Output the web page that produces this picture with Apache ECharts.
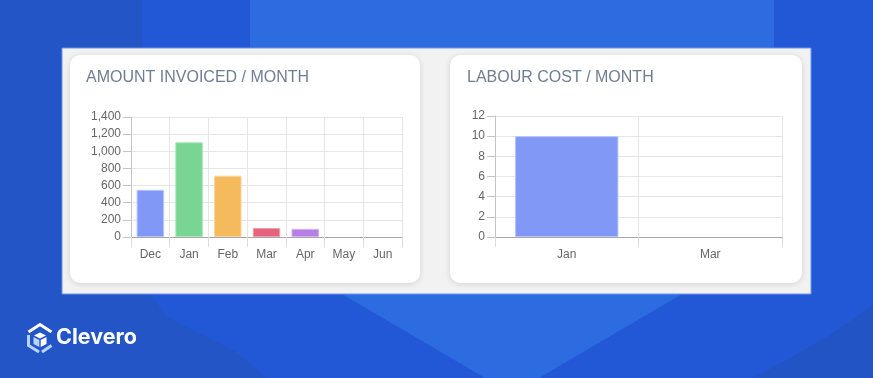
<!DOCTYPE html>
<html>
<head>
<meta charset="utf-8">
<script src="https://cdn.jsdelivr.net/npm/echarts@6/dist/echarts.min.js"></script>
<style>
  html, body { margin: 0; padding: 0; }
  #main { width: 873px; height: 378px; }
</style>
</head>
<body>
<div id="main"></div>
<script>
// data
var invoiceMonths = ['Dec', 'Jan', 'Feb', 'Mar', 'Apr', 'May', 'Jun'];
var invoiceAmounts = [550, 1105, 715, 105, 95, 0, 0];
var invoiceColors = ['#8198f7', '#78d593', '#f5ba5c', '#e5637c', '#b57fe6', '#8198f7', '#78d593'];
var invoiceBorders = ['#b4c2fb', '#a9e6bb', '#f9d49a', '#efa0af', '#d3b0f1', '#b4c2fb', '#a9e6bb'];

var labourMonths = ['Jan', 'Mar'];
var labourCost = [10, 0];

var dom = document.getElementById('main');
var myChart = echarts.init(dom, null, { renderer: 'canvas' });

var axisFont = { color: '#666', fontSize: 12, fontFamily: 'Liberation Sans, Arial, sans-serif' };
var gridLine = { color: '#e6e6e6', width: 1 };

function xAxisFor(idx, cats) {
  return {
    type: 'category',
    gridIndex: idx,
    data: cats,
    boundaryGap: true,
    axisLine: { lineStyle: { color: '#a8a8a8' } },
    axisTick: { show: true, length: 10, lineStyle: { color: '#dcdcdc' } },
    axisLabel: Object.assign({ margin: 12 }, axisFont),
    splitLine: { show: true, lineStyle: gridLine }
  };
}

function yAxisFor(idx, max, step, fmt) {
  return {
    type: 'value',
    gridIndex: idx,
    min: 0,
    max: max,
    interval: step,
    axisLine: { show: true, lineStyle: { color: '#c4c4c4' } },
    axisTick: { show: true, length: 8, lineStyle: { color: '#c4c4c4' } },
    axisLabel: Object.assign({ margin: 10, formatter: fmt }, axisFont),
    splitLine: { show: true, lineStyle: gridLine }
  };
}

// bars with nothing to show get no outline
function barItem(v, fill, border) {
  return { value: v, itemStyle: { color: fill, borderColor: border, borderWidth: v > 0 ? 1 : 0 } };
}

var option = {
  backgroundColor: '#2258d5',
  animation: false,
  graphic: [
    // background shapes
    { type: 'polygon', z: -10, shape: { points: [[250, 0], [774, 0], [774, 240], [539, 378], [485, 378], [250, 240]] }, style: { fill: '#2c6be0' } },
    { type: 'polygon', z: -10, shape: { points: [[0, 0], [142, 0], [142, 48], [62, 48], [62, 294], [150, 294], [167, 317], [187, 327], [233, 350], [268, 378], [0, 378]] }, style: { fill: '#2355c7' } },
    { type: 'polygon', z: -10, shape: { points: [[873, 305], [830, 335], [790, 358], [753, 378], [873, 378]] }, style: { fill: '#2354c6' } },
    // panel
    { type: 'rect', z: -5, shape: { x: 62, y: 48, width: 749, height: 246 }, style: { fill: '#f2f2f2', stroke: '#6d95ea', lineWidth: 1 } },
    // cards
    { type: 'rect', z: -4, shape: { x: 70, y: 55, width: 350, height: 228, r: 10 }, style: { fill: '#fff', shadowBlur: 6, shadowColor: 'rgba(0,0,0,0.13)', shadowOffsetY: 1 } },
    { type: 'rect', z: -4, shape: { x: 450, y: 55, width: 352, height: 228, r: 10 }, style: { fill: '#fff', shadowBlur: 6, shadowColor: 'rgba(0,0,0,0.13)', shadowOffsetY: 1 } },
    // card titles
    { type: 'text', z: 5, left: 86, top: 70, style: { text: 'AMOUNT INVOICED / MONTH', fill: '#707d92', fontSize: 16, fontFamily: 'Liberation Sans, Arial, sans-serif' } },
    { type: 'text', z: 5, left: 467, top: 70, style: { text: 'LABOUR COST / MONTH', fill: '#707d92', fontSize: 16, fontFamily: 'Liberation Sans, Arial, sans-serif' } },
    // logo
    { type: 'polyline', z: 5, shape: { points: [[28.5, 332], [40, 324.5], [51.5, 332]] }, style: { stroke: '#fff', lineWidth: 3, fill: null } },
    { type: 'polyline', z: 5, shape: { points: [[28.5, 335], [28.5, 345.5], [39, 352]] }, style: { stroke: '#b9d3ff', lineWidth: 3, fill: null } },
    { type: 'polyline', z: 5, shape: { points: [[51.5, 345.5], [42, 352]] }, style: { stroke: '#b9d3ff', lineWidth: 3, fill: null } },
    { type: 'polygon', z: 5, shape: { points: [[34, 335.5], [40, 332.5], [46, 335.5], [40, 338.5]] }, style: { fill: '#fff' } },
    { type: 'polygon', z: 5, shape: { points: [[33.5, 337], [39.3, 340], [39.3, 347], [33.5, 344]] }, style: { fill: '#b9d3ff' } },
    { type: 'polygon', z: 5, shape: { points: [[40.7, 340], [46.5, 337], [46.5, 344], [40.7, 347]] }, style: { fill: '#fff' } },
    { type: 'text', z: 5, left: 56, top: 327, style: { text: 'Clevero', fill: '#fff', fontSize: 21.5, fontWeight: 'bold', fontFamily: 'Inter, Liberation Sans, Arial, sans-serif' } }
  ],
  grid: [
    { left: 131, right: 471, top: 117, bottom: 141, containLabel: false },
    { left: 495, right: 91, top: 116, bottom: 141, containLabel: false }
  ],
  xAxis: [xAxisFor(0, invoiceMonths), xAxisFor(1, labourMonths)],
  yAxis: [
    yAxisFor(0, 1400, 200, function (v) { return v.toLocaleString('en-US'); }),
    yAxisFor(1, 12, 2, null)
  ],
  series: [
    {
      name: 'Amount invoiced',
      type: 'bar',
      xAxisIndex: 0,
      yAxisIndex: 0,
      barCategoryGap: '29%',
      data: invoiceAmounts.map(function (v, i) {
        return barItem(v, invoiceColors[i], invoiceBorders[i]);
      })
    },
    {
      name: 'Labour cost',
      type: 'bar',
      xAxisIndex: 1,
      yAxisIndex: 1,
      barCategoryGap: '28%',
      data: labourCost.map(function (v) {
        return barItem(v, '#8198f7', '#b4c2fb');
      })
    }
  ]
};

myChart.setOption(option);
window.addEventListener('resize', myChart.resize);
</script>
</body>
</html>
